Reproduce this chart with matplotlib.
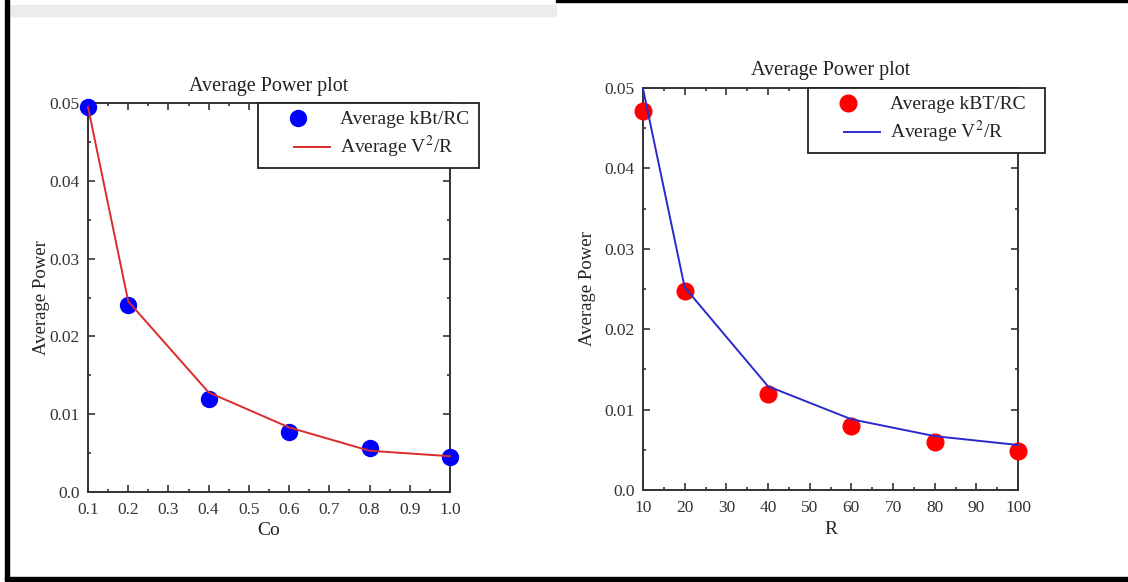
import numpy as np
import matplotlib
matplotlib.use("Agg")
import matplotlib.pyplot as plt
from matplotlib.legend_handler import HandlerLine2D
from matplotlib.patches import Rectangle
from matplotlib.ticker import MultipleLocator, FixedLocator

# ---- data ----
co_values = [0.1, 0.2, 0.4, 0.6, 0.8, 1.0]
co_kbt_rc = [0.0495, 0.0240, 0.0119, 0.0077, 0.0056, 0.0045]
co_v2_r = [0.0495, 0.0245, 0.0128, 0.0083, 0.0053, 0.0046]

r_values = [10, 20, 40, 60, 80, 100]
r_kbt_rc = [0.0472, 0.0248, 0.0119, 0.0080, 0.0060, 0.0048]
r_v2_r = [0.0499, 0.0252, 0.0129, 0.0088, 0.0067, 0.0056]

y_ticks = [0.0, 0.01, 0.02, 0.03, 0.04, 0.05]
y_tick_labels = ["0.0", "0.01", "0.02", "0.03", "0.04", "0.05"]
co_ticks = [0.1, 0.2, 0.3, 0.4, 0.5, 0.6, 0.7, 0.8, 0.9, 1.0]
co_tick_labels = ["0.1", "0.2", "0.3", "0.4", "0.5", "0.6", "0.7", "0.8", "0.9", "1.0"]
r_ticks = [10, 20, 30, 40, 50, 60, 70, 80, 90, 100]
r_tick_labels = [str(v) for v in r_ticks]

plt.rcParams["font.family"] = ["Liberation Serif", "DejaVu Serif"]
plt.rcParams["mathtext.fontset"] = "stix"

W, H = 1128, 582
fig = plt.figure(figsize=(W / 100, H / 100), dpi=100)
fig.patch.set_facecolor("white")


def px_rect(x0, y0, x1, y1):
    """Figure-fraction rectangle from pixel edges (origin top-left)."""
    return [x0 / W, 1 - y1 / H, (x1 - x0) / W, (y1 - y0) / H]


class PlacedHandler(HandlerLine2D):
    """Legend handle whose line and marker sit at chosen fractions of the handle box."""

    def __init__(self, marker_frac=0.5, line_start=0.0, **kw):
        super().__init__(**kw)
        self.marker_frac = marker_frac
        self.line_start = line_start

    def get_xdata(self, legend, xdescent, ydescent, width, height, fontsize):
        x0 = -xdescent
        xdata = np.array([x0 + self.line_start * width, x0 + width])
        xmark = np.array([x0 + self.marker_frac * width])
        return xdata, xmark


spine_col = "#333333"
tick_col = "#333333"
text_col = "#222222"


def style_axes(ax, xticks, xlabels, xminor, xlim, xlabel, xlab_y, ylab_x):
    ax.set_xlim(*xlim)
    ax.set_ylim(0, 0.05)
    ax.xaxis.set_major_locator(FixedLocator(xticks))
    ax.set_xticklabels(xlabels)
    ax.xaxis.set_minor_locator(MultipleLocator(xminor))
    ax.yaxis.set_major_locator(FixedLocator(y_ticks))
    ax.set_yticklabels(y_tick_labels)
    ax.yaxis.set_minor_locator(MultipleLocator(0.005))
    ax.tick_params(which="both", direction="in", top=True, right=True,
                   color=tick_col, width=1.2, labelsize=12.5, labelcolor="#333333")
    ax.tick_params(which="major", length=5)
    ax.tick_params(axis="x", which="major", pad=7)
    ax.tick_params(axis="y", which="major", pad=6)
    ax.tick_params(which="minor", length=2.5)
    for s in ax.spines.values():
        s.set_color(spine_col)
        s.set_linewidth(1.4)
    ax.set_title("Average Power plot", fontsize=14.5, pad=9, color=text_col)
    ax.set_ylabel("Average Power", fontsize=13.5, color=text_col)
    ax.yaxis.set_label_coords(ylab_x, 0.5)
    ax.set_xlabel(xlabel, fontsize=14, color=text_col, va="top")
    ax.xaxis.set_label_coords(0.5, xlab_y)


def add_legend(ax, handles, labels, bbox):
    leg = ax.legend(handles, labels, loc="upper left", bbox_to_anchor=bbox,
                    mode="expand", borderaxespad=0, fontsize=14,
                    frameon=True, fancybox=False, edgecolor="#222222",
                    framealpha=1, handlelength=3.3, handletextpad=0.5,
                    borderpad=0.4, labelspacing=0.3,
                    handler_map={handles[0]: PlacedHandler(marker_frac=0.19),
                                 handles[1]: PlacedHandler(line_start=0.44)})
    leg.get_frame().set_linewidth(1.3)
    leg.set_clip_on(False)
    for t in leg.get_texts():
        t.set_color(text_col)
    return leg


# ---- left panel: varying Co ----
ax1 = fig.add_axes(px_rect(88, 103, 450, 492))
pts1, = ax1.plot(co_values, co_kbt_rc, linestyle="none", marker="o",
                 markersize=11.5, color="#0000ff", zorder=3, clip_on=False)
ln1, = ax1.plot(co_values, co_v2_r, color="#dd2a2a", linewidth=1.4, zorder=4,
                clip_on=False)
style_axes(ax1, co_ticks, co_tick_labels, 0.05, (0.1, 1.0), "Co",
           -0.078, -0.106)
add_legend(ax1, [pts1, ln1], ["Average kBt/RC", "Average V$^2$/R"],
           (0.47, 0.838, 0.61, 0.162))

# ---- right panel: varying R ----
ax2 = fig.add_axes(px_rect(643, 88, 1018, 490))
pts2, = ax2.plot(r_values, r_kbt_rc, linestyle="none", marker="o",
                 markersize=12, color="#ff0000", zorder=3, clip_on=False)
ln2, = ax2.plot(r_values, r_v2_r, color="#2a2acc", linewidth=1.4, zorder=4,
                clip_on=False)
style_axes(ax2, r_ticks, r_tick_labels, 5, (10, 100), "R",
           -0.076, -0.125)
add_legend(ax2, [pts2, ln2], ["Average kBT/RC", "Average V$^2$/R"],
           (0.44, 0.833, 0.632, 0.167))

# ---- surrounding frame ----
fig.add_artist(Rectangle((5 / W, 1 - 580 / H), 3.5 / W, 580 / H,
                         transform=fig.transFigure, color="black", zorder=10))
fig.add_artist(Rectangle((5 / W, 1 - 581 / H), 1 - 5 / W, 4 / H,
                         transform=fig.transFigure, color="black", zorder=10))
fig.add_artist(Rectangle((556 / W, 1 - 2 / H), 1 - 556 / W, 2 / H,
                         transform=fig.transFigure, color="black", zorder=10))
fig.add_artist(Rectangle((9 / W, 1 - 16 / H), 547 / W, 11 / H,
                         transform=fig.transFigure, color="#ececec", zorder=9))

fig.savefig("out.png", dpi=100)
